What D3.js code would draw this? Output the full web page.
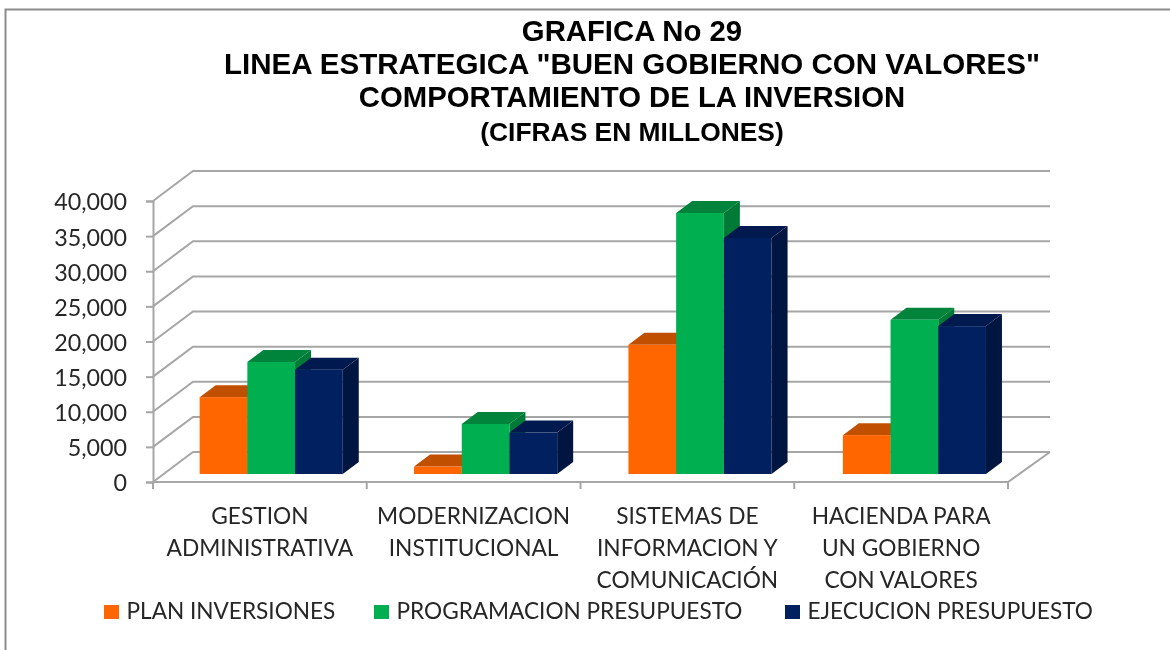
<!DOCTYPE html>
<html>
<head>
<meta charset="utf-8">
<script src="https://cdn.jsdelivr.net/npm/d3@7"></script>
<style>
  html, body { margin: 0; padding: 0; background: #fff; overflow: hidden; }
  svg { display: block; }
</style>
</head>
<body>
<script>
let categories = ["GESTION ADMINISTRATIVA", "MODERNIZACION INSTITUCIONAL", "SISTEMAS DE INFORMACION Y COMUNICACIÓN", "HACIENDA PARA UN GOBIERNO CON VALORES"];
let categoryLines = [
  ["GESTION", "ADMINISTRATIVA"],
  ["MODERNIZACION", "INSTITUCIONAL"],
  ["SISTEMAS DE", "INFORMACION Y", "COMUNICACIÓN"],
  ["HACIENDA PARA", "UN GOBIERNO", "CON VALORES"]
];
let seriesNames = ["PLAN INVERSIONES", "PROGRAMACION PRESUPUESTO", "EJECUCION PRESUPUESTO"];
let planInversiones = [10940, 1070, 18400, 5530];
let programacionPresupuesto = [15950, 7120, 37150, 21950];
let ejecucionPresupuesto = [14850, 5900, 33600, 21050];
let yTicks = [0, 5000, 10000, 15000, 20000, 25000, 30000, 35000, 40000];
let titleLines = ["GRAFICA No 29", "LINEA ESTRATEGICA \"BUEN GOBIERNO CON VALORES\"", "COMPORTAMIENTO DE LA INVERSION", "(CIFRAS EN MILLONES)"];

let allSeries = [planInversiones, programacionPresupuesto, ejecucionPresupuesto];
let width = 1170;
let height = 650;
let margin = {top: 201, right: 162, bottom: 168, left: 153};
let labelFont = "Lato, 'Open Sans', sans-serif";
let titleFont = "'Liberation Sans', Arial, sans-serif";
let gridColor = "#a6a6a6";

// front faces, side and top colours for each series
let colors = [
  {front: "#ff6600", top: "#c04f00", side: "#c04f00"},
  {front: "#00b050", top: "#00843c", side: "#007a37"},
  {front: "#002060", top: "#001a4f", side: "#001540"}
];

// oblique offset of the back wall, and of the bars inside the floor
let depth = {x: 40, y: -30};
let barShift = {x: 11, y: -8};
let barDepth = {x: 16, y: -12};

let svg = d3.select("body")
            .append("svg")
            .attr("width", width)
            .attr("height", height)
            .style("filter", "blur(0.35px)");

// outer frame, only top and left are in the picture
svg.append("path")
   .attr("d", d3.line()([[5.5, height], [5.5, 9.5], [width, 9.5]]))
   .attr("fill", "none")
   .attr("stroke", "#8c8c8c")
   .attr("stroke-width", 2);

let x = d3.scaleBand()
          .domain(categories)
          .range([margin.left, width - margin.right]);

// the bar groups run a little wider than the axis ticks in the original
let xBars = d3.scaleBand()
              .domain(categories)
              .range([margin.left, width - margin.right + 2.6]);

let y = d3.scaleLinear()
          .domain([0, 40000])
          .range([height - margin.bottom, margin.top]);

let bar = d3.scaleBand()
            .domain(d3.range(seriesNames.length))
            .range([0, xBars.bandwidth()])
            .paddingInner(0)
            .paddingOuter(0.747);

let x0 = margin.left;
let x1 = x.range()[1];

// back wall lines and the slanted floor/side lines
yTicks.forEach(function(t) {
  svg.append("path")
     .attr("d", d3.line()([[x0, y(t)], [x0 + depth.x, y(t) + depth.y], [x1 + depth.x + 2, y(t) + depth.y]]))
     .attr("fill", "none")
     .attr("stroke", gridColor)
     .attr("stroke-width", 2);
});

// floor edges
svg.append("path")
   .attr("d", d3.line()([[x0, y(0)], [x1, y(0)], [x1 + depth.x + 2, y(0) + depth.y]]))
   .attr("fill", "none")
   .attr("stroke", gridColor)
   .attr("stroke-width", 2);

// y axis
let yAxis = svg.append("g")
               .attr("transform", `translate(${margin.left},0)`)
               .call(d3.axisLeft(y).tickValues(yTicks).tickSize(7).tickPadding(19).tickFormat(d3.format(",")));
yAxis.selectAll("line").attr("stroke", gridColor).attr("stroke-width", 2);
yAxis.select(".domain").attr("stroke", gridColor).attr("stroke-width", 2);
yAxis.selectAll("text")
     .attr("y", 1.5)
     .attr("font-family", labelFont)
     .attr("font-size", 23.3)
     .attr("fill", "#262626");

// category ticks between the bands
svg.selectAll(".catTick")
   .data(d3.range(categories.length + 1))
   .enter().append("line")
           .attr("class", "catTick")
           .attr("x1", i => x0 + i * x.step())
           .attr("x2", i => x0 + i * x.step())
           .attr("y1", y(0))
           .attr("y2", y(0) + 7)
           .attr("stroke", gridColor)
           .attr("stroke-width", 2);

// bars, left to right so each front covers the side of the previous one
categories.forEach(function(c, ci) {
  allSeries.forEach(function(vals, si) {
    let left = xBars(c) + bar(si) + barShift.x;
    let right = left + bar.bandwidth();
    let base = y(0) + barShift.y;
    let top = y(vals[ci]) + barShift.y;
    let g = svg.append("g");
    g.append("polygon")
     .attr("points", [[right, top], [right + barDepth.x, top + barDepth.y], [right + barDepth.x, base + barDepth.y], [right, base]].join(" "))
     .attr("fill", colors[si].side);
    g.append("polygon")
     .attr("points", [[left, top], [left + barDepth.x, top + barDepth.y], [right + barDepth.x, top + barDepth.y], [right, top]].join(" "))
     .attr("fill", colors[si].top);
    g.append("rect")
     .attr("x", left)
     .attr("y", top)
     .attr("width", bar.bandwidth())
     .attr("height", base - top)
     .attr("fill", colors[si].front);
  });
});

// category labels
categories.forEach(function(c, ci) {
  let t = svg.append("text")
             .attr("text-anchor", "middle")
             .attr("font-family", labelFont)
             .attr("font-size", 22.7)
             .attr("fill", "#262626");
  categoryLines[ci].forEach(function(line, li) {
    t.append("tspan")
     .attr("x", x(c) + x.bandwidth() / 2)
     .attr("y", 524 + li * 32)
     .text(line);
  });
});

// title
let titleY = [41, 74, 107, 141];
let titleSize = [29.3, 29.55, 29.3, 26.4];
titleLines.forEach(function(line, i) {
  svg.append("text")
     .attr("x", 632)
     .attr("y", titleY[i])
     .attr("text-anchor", "middle")
     .attr("font-family", titleFont)
     .attr("font-weight", "bold")
     .attr("font-size", titleSize[i])
     .attr("fill", "#000")
     .text(line);
});

// legend
let legendX = [104, 374, 785];
seriesNames.forEach(function(name, i) {
  svg.append("rect")
     .attr("x", legendX[i])
     .attr("y", 605)
     .attr("width", 15)
     .attr("height", 14)
     .attr("fill", colors[i].front);
  svg.append("text")
     .attr("x", legendX[i] + 22.5)
     .attr("y", 619)
     .attr("font-family", labelFont)
     .attr("font-size", 22.6)
     .attr("fill", "#262626")
     .text(name);
});
</script>
</body>
</html>
